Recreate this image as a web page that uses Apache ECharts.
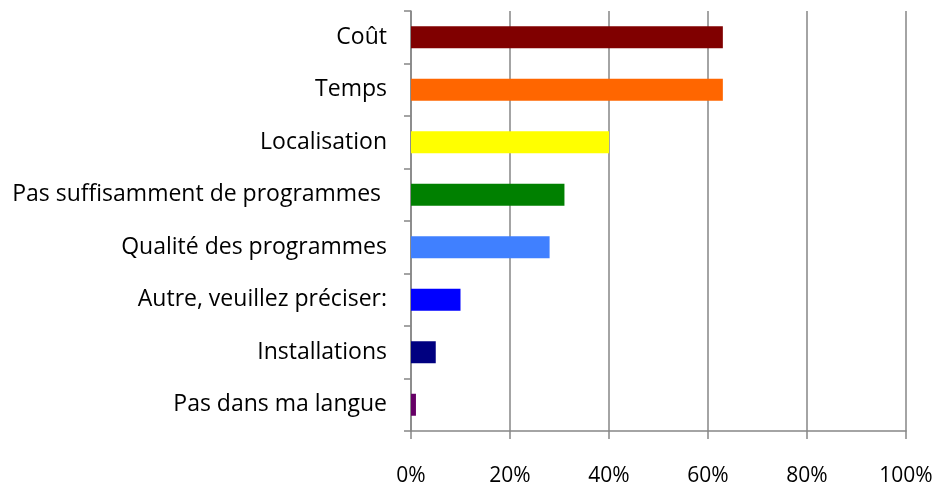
<!DOCTYPE html>
<html>
<head>
<meta charset="utf-8">
<script src="https://cdn.jsdelivr.net/npm/echarts@6/dist/echarts.min.js"></script>
<style>
  html, body { margin: 0; padding: 0; background: #fff; }
  #main { width: 940px; height: 487px; }
</style>
</head>
<body>
<div id="main"></div>
<script>
var categories = ['Coût', 'Temps', 'Localisation', 'Pas suffisamment de programmes ',
    'Qualité des programmes', 'Autre, veuillez préciser:', 'Installations', 'Pas dans ma langue'];
var values = [63, 63, 40, 31, 28, 10, 5, 1];
var barColors = ['#800000', '#FF6600', '#FFFF00', '#008000', '#4080FF', '#0000FF', '#000080', '#660066'];
var xTicks = [0, 20, 40, 60, 80, 100];

var myChart = echarts.init(document.getElementById('main'));
var option = {
    animation: false,
    textStyle: { fontFamily: 'Open Sans' },
    grid: {
        left: 411,
        right: 34,
        top: 11,
        bottom: 54
    },
    xAxis: {
        type: 'value',
        min: xTicks[0],
        max: xTicks[xTicks.length - 1],
        interval: 20,
        axisLine: { show: true, lineStyle: { color: '#868686', width: 1.5 } },
        axisTick: { show: true, length: 8, lineStyle: { color: '#868686', width: 1.5 } },
        splitLine: { show: true, lineStyle: { color: '#868686', width: 1.5 } },
        axisLabel: {
            color: '#000',
            fontSize: 21,
            margin: 35,
            formatter: '{value}%'
        }
    },
    yAxis: {
        type: 'category',
        inverse: true,
        data: categories,
        axisLine: { show: true, lineStyle: { color: '#868686', width: 1.5 } },
        axisTick: { show: true, length: 7, lineStyle: { color: '#868686', width: 1.5 } },
        axisLabel: {
            color: '#000',
            fontSize: 23,
            margin: 24
        }
    },
    series: [
        {
            type: 'bar',
            data: values.map(function (v, i) {
                return { value: v, itemStyle: { color: barColors[i] } };
            }),
            barWidth: 22
        }
    ]
};
myChart.setOption(option);
window.onresize = myChart.resize;
</script>
</body>
</html>
